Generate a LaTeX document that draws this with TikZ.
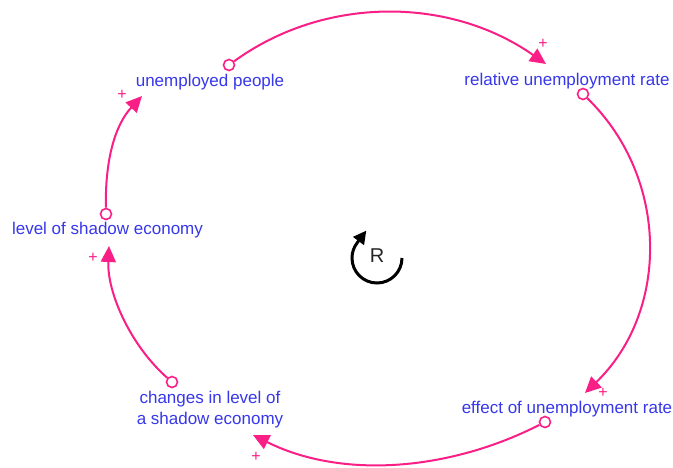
\documentclass[tikz,border=0pt]{standalone}
\usepackage{fontspec}
\setmainfont{Liberation Sans}
\usetikzlibrary{arrows.meta}
\definecolor{linkpink}{RGB}{250,30,135}
\definecolor{varblue}{RGB}{55,55,235}
\begin{document}
\begin{tikzpicture}[x=1pt,y=-1pt,
  varlabel/.style={text=varblue,font=\fontsize{17}{21}\selectfont,inner sep=0pt,anchor=base,align=center},
  tail/.style={circle,draw=linkpink,fill=white,line width=1.6pt,minimum size=11pt,inner sep=0pt},
  link/.style={draw=linkpink,line width=2pt,-{Triangle[length=16pt,width=15pt]}},
  polarity/.style={text=linkpink,font=\fontsize{16}{16}\selectfont,inner sep=0pt,
    text height=9.4pt,text depth=-1.9pt},
  loopsign/.style={draw=black,line width=3pt,-{Triangle[length=13pt,width=13pt]}}]
\useasboundingbox[fill=white] (0,0) rectangle (673,467);

% variables
\node[varlabel] (up) at (210,86) {unemployed people};
\node[varlabel] (rur) at (567,85) {relative unemployment rate};
\node[varlabel] (lse) at (107.5,234) {level of shadow economy};
\node[varlabel] (chg) at (210,424) {changes in level of\\a shadow economy};
\node[varlabel] (eur) at (567,413) {effect of unemployment rate};

% link tails
\node[tail] (c1) at (229,65) {};
\node[tail] (c2) at (583,94) {};
\node[tail] (c3) at (106,214) {};
\node[tail] (c4) at (172,382) {};
\node[tail] (c5) at (545,422) {};

% arrow tips
\coordinate (t1) at (546,64);
\coordinate (t2) at (142,96);
\coordinate (t3) at (109,246);
\coordinate (t4) at (253,435);
\coordinate (t5) at (585,393);

% causal links
\draw[link] (c1) .. controls (324,-4) and (449,-4) .. (t1);
\draw[link] (c2) .. controls (670,179) and (669,312) .. (t5);
\draw[link] (c5) .. controls (451,470) and (343,480) .. (t4);
\draw[link] (c4) .. controls (130,345) and (107,292) .. (t3);
\draw[link] (c3) .. controls (105,160) and (115,125) .. (t2);

% polarities
\node[polarity] (p1) at (543,44) {+};
\node[polarity] (p2) at (122,95) {+};
\node[polarity] (p3) at (93,258) {+};
\node[polarity] (p4) at (256,457) {+};
\node[polarity] (p5) at (603,393) {+};

% reinforcing loop marker
\node[text=black!85,font=\fontsize{20}{20}\selectfont,inner sep=0pt] (R) at (377,256) {R};
\draw[loopsign] (402,258) arc (0:218:25) -- ++(9,-12);
\end{tikzpicture}
\end{document}
